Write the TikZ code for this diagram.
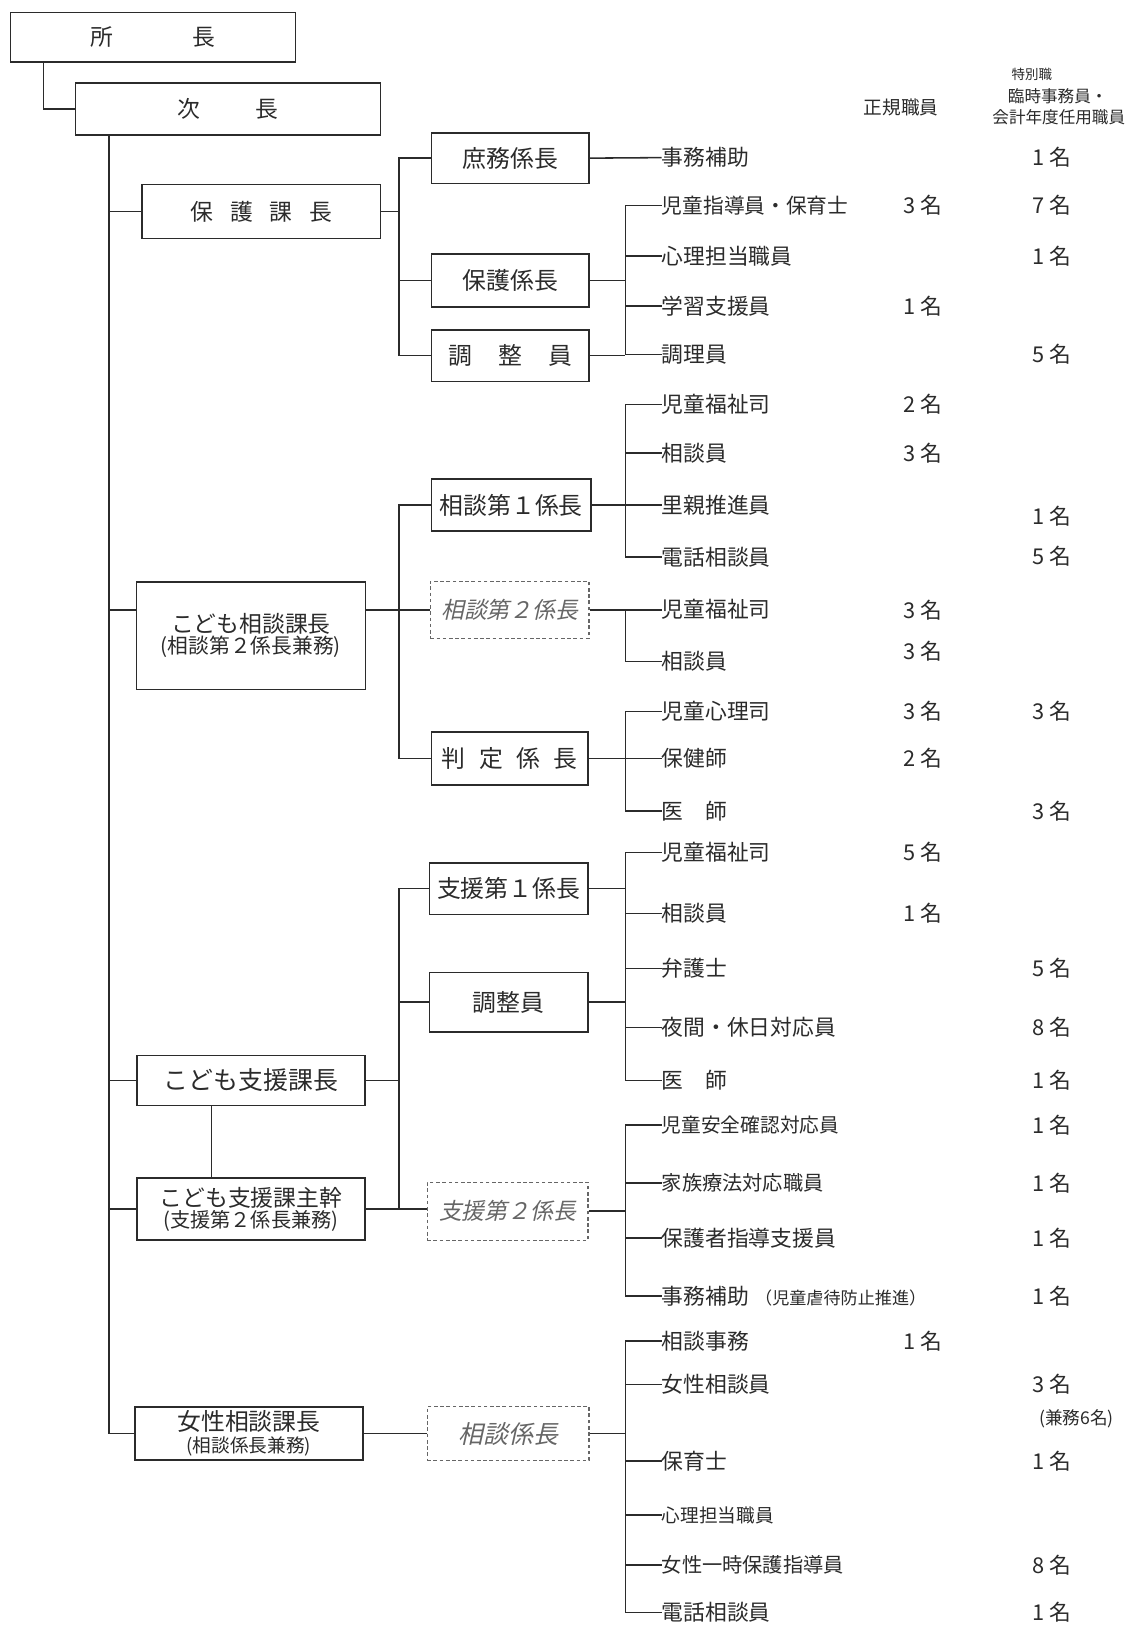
\documentclass[tikz,border=0pt]{standalone}
\usepackage{fontspec}
\setmainfont{Noto Sans CJK JP}
\newfontfamily\slfont[FakeSlant=0.22]{Noto Sans CJK JP}
\usetikzlibrary{calc}
\definecolor{ink}{HTML}{2B2B2B}
\definecolor{soft}{HTML}{666666}
\newcommand{\myfs}[1]{\fontsize{#1pt}{#1pt}\selectfont}
\begin{document}
\begin{tikzpicture}[x=1pt,y=-1pt,
  every node/.style={text=ink},
  box/.style={draw=ink, line width=1.5pt, rectangle, inner sep=0pt},
  dbox/.style={draw=soft, line width=1.3pt, dash pattern=on 3.5pt off 2.5pt, rectangle, inner sep=0pt, text=soft, font=\slfont\myfs{22}},
  item/.style={anchor=west, inner sep=0pt, font=\myfs{21}},
  cnt/.style={inner sep=0pt, font=\myfs{21}},
  hdr/.style={inner sep=0pt},
  con/.style={draw=ink, line width=1.5pt},
]
\fill[white] (0,0) rectangle (1092,1568);
\useasboundingbox (0,0) rectangle (1092,1568);

% spine coordinates
\coordinate (v0) at (42,0);
\coordinate (vx) at (105,0);
\coordinate (vs) at (204,0);
\coordinate (vy) at (385,0);
\coordinate (vz) at (603,0);

% header
\node[hdr, font=\myfs{18}] (h1) at (869,104) {正規職員};
\node[hdr, font=\myfs{13}] (h2) at (995,72) {特別職};
\node[hdr, font=\myfs{16}] (h3) at (1020,93) {臨時事務員・};
\node[hdr, font=\myfs{16}] (h4) at (1021,113) {会計年度任用職員};

% top boxes
\node[box, minimum width=275pt, minimum height=48pt, font=\myfs{22}] (shocho) at (147.5,36) {所\hspace{77pt}長};
\node[box, minimum width=294pt, minimum height=50pt, font=\myfs{22}] (jicho) at (220,105) {次\hspace{53pt}長\hspace{14pt}};

% 保護課
\node[box, minimum width=230pt, minimum height=52pt, font=\myfs{22}] (hogoka) at (252,204) {保\hspace{16pt}護\hspace{16pt}課\hspace{16pt}長\hspace{12pt}};
\node[box, minimum width=152pt, minimum height=49pt, font=\myfs{23}] (shomu) at (492,152.5) {庶務係長};
\node[box, minimum width=152pt, minimum height=51pt, font=\myfs{23}] (hogokei) at (492,270.5) {保護係長};
\node[box, minimum width=152pt, minimum height=50pt, font=\myfs{23}] (chosei1) at (492,343) {調\hspace{25pt}整\hspace{25pt}員};

% こども相談課
\node[box, minimum width=221pt, minimum height=104pt, align=center] (kodomoso) at (242,613) {\myfs{22}こども相談課長\\[1pt]\myfs{20}(相談第２係長兼務)};
\node[box, minimum width=154pt, minimum height=50pt, font=\myfs{23}] (soudan1) at (493,487) {相談第１係長};
\node[dbox, minimum width=153pt, minimum height=55pt] (soudan2) at (491.5,588) {相談第２係長};
\node[box, minimum width=151pt, minimum height=51pt, font=\myfs{23}] (hantei) at (491.5,731.5) {判\hspace{13pt}定\hspace{13pt}係\hspace{13pt}長};

% こども支援課
\node[box, minimum width=220pt, minimum height=48pt, font=\myfs{24}] (shienka) at (242,1042) {こども支援課長};
\node[box, minimum width=220pt, minimum height=60pt, align=center] (shukan) at (242,1166) {\myfs{22}こども支援課主幹\\[1pt]\myfs{19.5}(支援第２係長兼務)};
\node[box, minimum width=153pt, minimum height=50pt, font=\myfs{23}] (shien1) at (490.5,857) {支援第１係長};
\node[box, minimum width=153pt, minimum height=57pt, font=\myfs{23}] (chosei2) at (490.5,966.5) {調整員};
\node[dbox, minimum width=155pt, minimum height=56pt] (shien2) at (489.5,1168) {支援第２係長};

% 女性相談課
\node[box, minimum width=220pt, minimum height=51pt, align=center] (joseika) at (240,1382.5) {\myfs{23}女性相談課長\\[3pt]\myfs{18}(相談係長兼務)};
\node[dbox, minimum width=156pt, minimum height=52pt, font=\slfont\myfs{24}] (soukei) at (490,1382.5) {相談係長};

% items 保護課
\node[item] (a1) at (638,152) {事務補助};
\node[item, font=\myfs{20}] (a2) at (638,198) {児童指導員・保育士};
\node[item] (a3) at (638,247) {心理担当職員};
\node[item] (a4) at (638,295) {学習支援員};
\node[item] (a5) at (638,342) {調理員};
% items こども相談課
\node[item] (b1) at (638,390) {児童福祉司};
\node[item] (b2) at (638,437) {相談員};
\node[item] (b3) at (638,487) {里親推進員};
\node[item] (b4) at (638,537) {電話相談員};
\node[item] (b5) at (638,588) {児童福祉司};
\node[item] (b6) at (638,638) {相談員};
\node[item] (b7) at (638,686) {児童心理司};
\node[item] (b8) at (638,731.5) {保健師};
\node[item] (b9) at (638,782) {医　師};
% items こども支援課
\node[item] (c1) at (638,822) {児童福祉司};
\node[item] (c2) at (638,881) {相談員};
\node[item] (c3) at (638,934) {弁護士};
\node[item] (c4) at (638,991) {夜間・休日対応員};
\node[item] (c5) at (638,1042) {医　師};
\node[item, font=\myfs{19}] (c6) at (638,1085) {児童安全確認対応員};
\node[item, font=\myfs{19.5}] (c7) at (638,1141) {家族療法対応職員};
\node[item] (c8) at (638,1194) {保護者指導支援員};
\node[item] (c9) at (638,1250) {事務補助\hspace{6pt}{\myfs{16.5}（児童虐待防止推進）}};
% items 女性相談課
\node[item] (d1) at (638,1293) {相談事務};
\node[item] (d2) at (638,1335) {女性相談員};
\node[item] (d3) at (638,1409) {保育士};
\node[item, font=\myfs{18}] (d4) at (638,1461) {心理担当職員};
\node[item, font=\myfs{19.5}] (d5) at (638,1509) {女性一時保護指導員};
\node[item] (d6) at (638,1555) {電話相談員};

% counts: regular column (x=890), special column (x=1014)
\node[cnt] (na1) at (1014,152) {1 名};
\node[cnt] (ra2) at (890,198) {3 名};
\node[cnt] (na2) at (1014,198) {7 名};
\node[cnt] (na3) at (1014,247) {1 名};
\node[cnt] (ra4) at (890,295) {1 名};
\node[cnt] (na5) at (1014,342) {5 名};
\node[cnt] (rb1) at (890,390) {2 名};
\node[cnt] (rb2) at (890,437) {3 名};
\node[cnt] (nb3) at (1014,498) {1 名};
\node[cnt] (nb4) at (1014,536) {5 名};
\node[cnt] (rb5) at (890,588) {3 名};
\node[cnt] (rb6) at (890,628) {3 名};
\node[cnt] (rb7) at (890,686) {3 名};
\node[cnt] (nb7) at (1014,686) {3 名};
\node[cnt] (rb8) at (890,731) {2 名};
\node[cnt] (nb9) at (1014,782) {3 名};
\node[cnt] (rc1) at (890,822) {5 名};
\node[cnt] (rc2) at (890,881) {1 名};
\node[cnt] (nc3) at (1014,934) {5 名};
\node[cnt] (nc4) at (1014,991) {8 名};
\node[cnt] (nc5) at (1014,1042) {1 名};
\node[cnt] (nc6) at (1014,1085) {1 名};
\node[cnt] (nc7) at (1014,1141) {1 名};
\node[cnt] (nc8) at (1014,1194) {1 名};
\node[cnt] (nc9) at (1014,1250) {1 名};
\node[cnt] (rd1) at (890,1293) {1 名};
\node[cnt] (nd2) at (1014,1335) {3 名};
\node[cnt, font=\myfs{17}] (kenmu) at (1038,1368) {(兼務6名)};
\node[cnt] (nd3) at (1014,1409) {1 名};
\node[cnt] (nd5) at (1014,1509) {8 名};
\node[cnt] (nd6) at (1014,1555) {1 名};

% connectors: top
\draw[con] (v0 |- shocho.south) |- (jicho.west);
\draw[con] (vx |- jicho.south) |- (joseika.west);
\draw[con] (vx |- hogoka.west) -- (hogoka.west);
\draw[con] (vx |- soudan2.west) -- (kodomoso.west |- soudan2.west);
\draw[con] (vx |- shienka.west) -- (shienka.west);
\draw[con] (vx |- shukan.west) -- (shukan.west);

% 保護課
\draw[con] (hogoka.east) -- (vy |- hogoka.east);
\draw[con] (shomu.west) -| (vy |- chosei1.west) -- (chosei1.west);
\draw[con] (vy |- hogokei.west) -- (hogokei.west);
\draw[con] (shomu.east) -- (a1.west);
\draw[con] (a2.west) -| (vz |- a5.west) -- (a5.west);
\draw[con] (vz |- a3.west) -- (a3.west);
\draw[con] (vz |- a4.west) -- (a4.west);
\draw[con] (hogokei.east) -- (vz |- hogokei.east);
\draw[con] (chosei1.east) -- (vz |- chosei1.east);

% こども相談課
\draw[con] (kodomoso.east |- soudan2.west) -- (soudan2.west);
\draw[con] (soudan1.west) -| (vy |- hantei.west) -- (hantei.west);
\draw[con] (b1.west) -| (vz |- b4.west) -- (b4.west);
\draw[con] (vz |- b2.west) -- (b2.west);
\draw[con] (soudan1.east) -- (b3.west);
\draw[con] (soudan2.east) -- (b5.west);
\draw[con] (vz |- b5.west) |- (b6.west);
\draw[con] (b7.west) -| (vz |- b9.west) -- (b9.west);
\draw[con] (hantei.east) -- (b8.west);

% こども支援課
\draw[con] (vs |- shienka.south) -- (vs |- shukan.north);
\draw[con] (shienka.east) -- (vy |- shienka.east);
\draw[con] (shien1.west) -| (vy |- shukan.east);
\draw[con] (shukan.east) -- (shien2.west |- shukan.east);
\draw[con] (vy |- chosei2.west) -- (chosei2.west);
\draw[con] (c1.west) -| (vz |- c5.west) -- (c5.west);
\draw[con] (vz |- c2.west) -- (c2.west);
\draw[con] (vz |- c3.west) -- (c3.west);
\draw[con] (vz |- c4.west) -- (c4.west);
\draw[con] (shien1.east) -- (vz |- shien1.east);
\draw[con] (chosei2.east) -- (vz |- chosei2.east);
\draw[con] (c6.west) -| (vz |- c9.west) -- (c9.west);
\draw[con] (vz |- c7.west) -- (c7.west);
\draw[con] (vz |- c8.west) -- (c8.west);
\draw[con] (shien2.east) -- (vz |- shien2.east);

% 女性相談課
\draw[con] (joseika.east) -- (soukei.west);
\draw[con] (d1.west) -| (vz |- d6.west) -- (d6.west);
\draw[con] (vz |- d2.west) -- (d2.west);
\draw[con] (vz |- d3.west) -- (d3.west);
\draw[con] (vz |- d4.west) -- (d4.west);
\draw[con] (vz |- d5.west) -- (d5.west);
\draw[con] (soukei.east) -- (vz |- soukei.east);
\end{tikzpicture}
\end{document}
